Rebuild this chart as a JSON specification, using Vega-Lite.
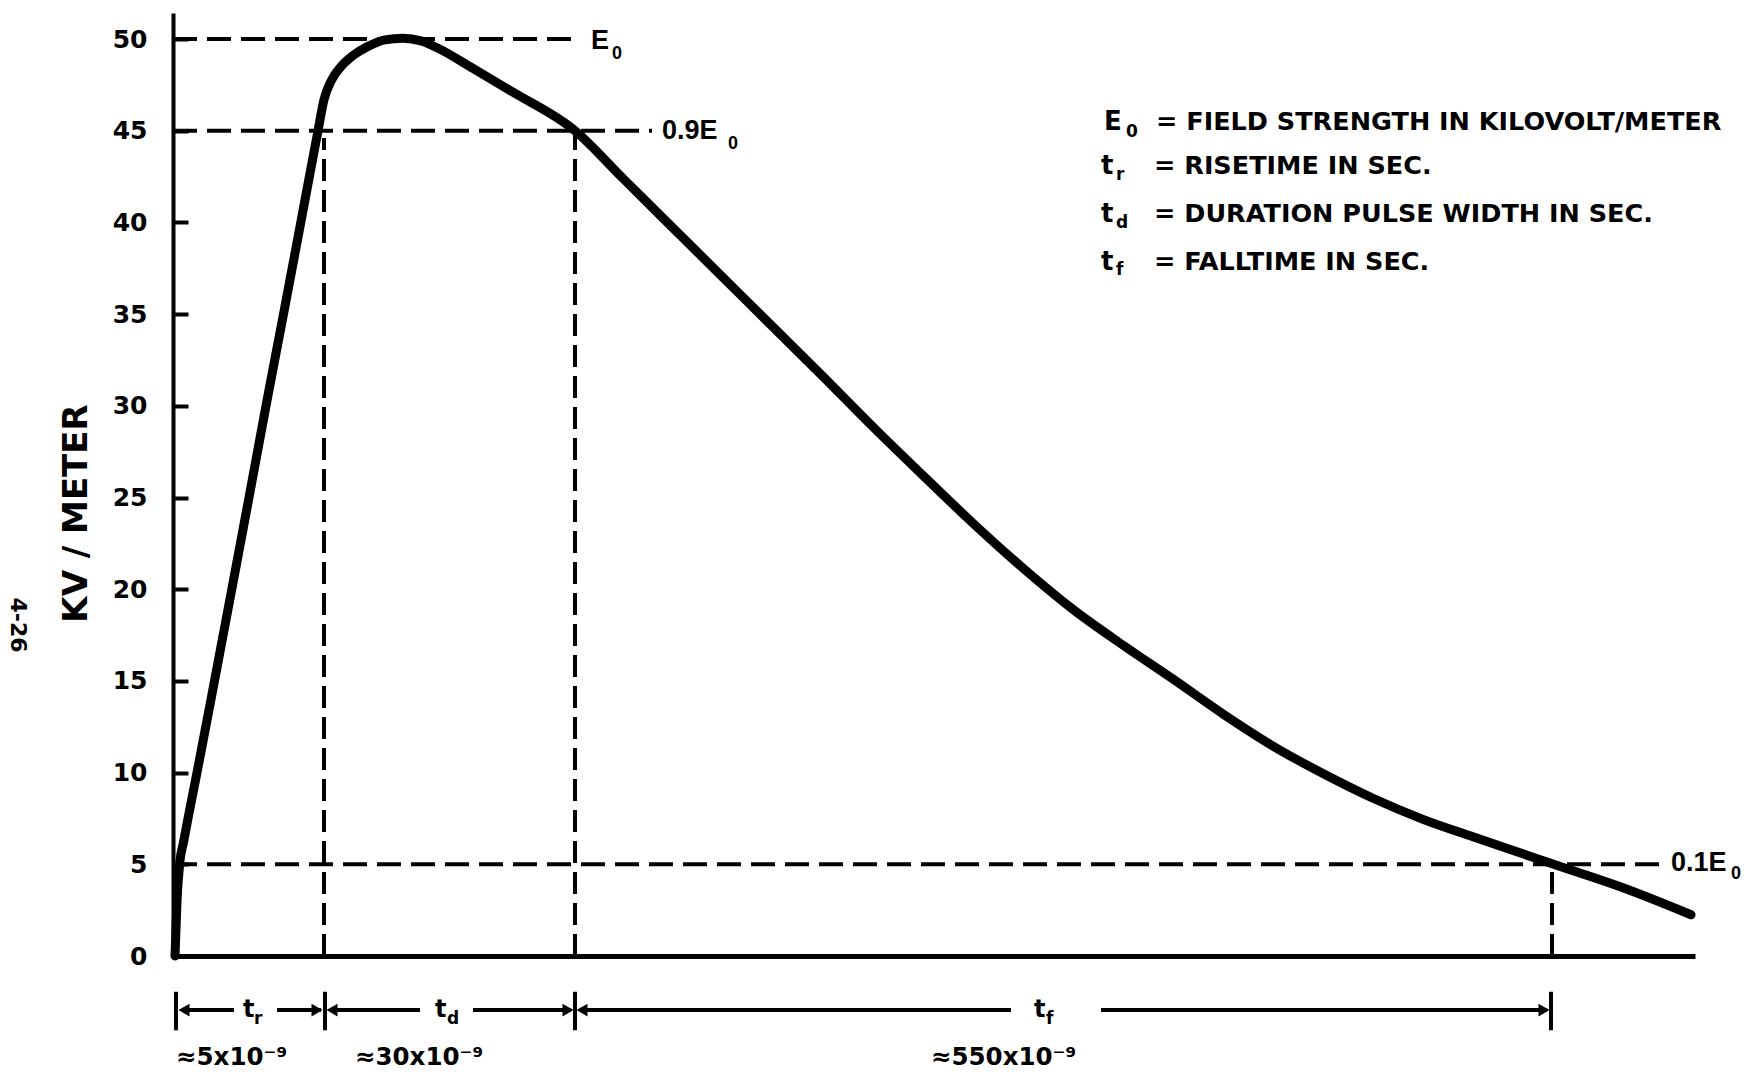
{
  "$schema": "https://vega.github.io/schema/vega-lite/v6.json",
  "width": 1522,
  "height": 943,
  "autosize": {"type": "none"},
  "padding": {"left": 173, "top": 13, "right": 54, "bottom": 120},
  "background": "white",
  "config": {"view": {"stroke": null}, "font": "DejaVu Sans"},
  "datasets": {
    "curve": [
      {"x": 2, "v": 0}, {"x": 4, "v": 3}, {"x": 7, "v": 5.2}, {"x": 10.5, "v": 6.2},
      {"x": 15.7, "v": 7.7}, {"x": 24, "v": 10},
      {"x": 41.5, "v": 15}, {"x": 58.8, "v": 20}, {"x": 76, "v": 25}, {"x": 93, "v": 30},
      {"x": 110.5, "v": 35}, {"x": 127.8, "v": 40}, {"x": 145, "v": 45}, {"x": 151, "v": 46.7},
      {"x": 158, "v": 47.7}, {"x": 168, "v": 48.5}, {"x": 180, "v": 49.1}, {"x": 195, "v": 49.6},
      {"x": 212, "v": 49.95}, {"x": 230, "v": 50.05}, {"x": 248, "v": 49.9}, {"x": 265, "v": 49.5},
      {"x": 300, "v": 48.4}, {"x": 340, "v": 47.1}, {"x": 402, "v": 45},
      {"x": 450, "v": 42.4}, {"x": 500, "v": 39.7}, {"x": 550, "v": 37.0}, {"x": 600, "v": 34.3},
      {"x": 650, "v": 31.6}, {"x": 700, "v": 28.85}, {"x": 750, "v": 26.2}, {"x": 800, "v": 23.6},
      {"x": 850, "v": 21.15}, {"x": 900, "v": 18.9}, {"x": 950, "v": 16.95}, {"x": 1000, "v": 15.1},
      {"x": 1050, "v": 13.2}, {"x": 1100, "v": 11.45}, {"x": 1150, "v": 9.95}, {"x": 1200, "v": 8.6},
      {"x": 1250, "v": 7.45}, {"x": 1300, "v": 6.5}, {"x": 1350, "v": 5.57}, {"x": 1377, "v": 5.07},
      {"x": 1400, "v": 4.65}, {"x": 1450, "v": 3.72}, {"x": 1518, "v": 2.25}
    ],
    "hdash": [
      {"x": 0, "x2": 404, "v": 50},
      {"x": 0, "x2": 479, "v": 45},
      {"x": 0, "x2": 1486, "v": 5}
    ],
    "vdash": [
      {"x": 151, "v": 0, "v2": 44.6},
      {"x": 402, "v": 0, "v2": 44.8},
      {"x": 1379, "v": 0, "v2": 4.8}
    ],
    "shafts": [
      {"x": 10, "x2": 61, "v": -2.95},
      {"x": 104, "x2": 148, "v": -2.95},
      {"x": 158, "x2": 247, "v": -2.95},
      {"x": 300, "x2": 398, "v": -2.95},
      {"x": 408, "x2": 838, "v": -2.95},
      {"x": 928, "x2": 1374, "v": -2.95}
    ],
    "heads": [
      {"x": 11, "v": -2.95, "dir": "left"},
      {"x": 144, "v": -2.95, "dir": "right"},
      {"x": 159, "v": -2.95, "dir": "left"},
      {"x": 395, "v": -2.95, "dir": "right"},
      {"x": 409, "v": -2.95, "dir": "left"},
      {"x": 1371, "v": -2.95, "dir": "right"}
    ],
    "bars": [
      {"x": 3, "v": -1.95, "v2": -4.05},
      {"x": 152, "v": -1.95, "v2": -4.05},
      {"x": 402, "v": -1.95, "v2": -4.05},
      {"x": 1378, "v": -1.95, "v2": -4.05}
    ],
    "lineLabels": [
      {"x": 418, "v": 49.9, "label": "E"},
      {"x": 489, "v": 45.0, "label": "0.9E"},
      {"x": 1498, "v": 5.05, "label": "0.1E"}
    ],
    "lineSubs": [
      {"x": 439, "v": 49.2, "label": "0"},
      {"x": 555, "v": 44.3, "label": "0"},
      {"x": 1558, "v": 4.45, "label": "0"}
    ],
    "legendSym": [
      {"x": 931, "v": 45.47, "label": "E"},
      {"x": 928, "v": 43.08, "label": "t"},
      {"x": 928, "v": 40.44, "label": "t"},
      {"x": 928, "v": 37.86, "label": "t"}
    ],
    "legendSub": [
      {"x": 953, "v": 44.95, "label": "0"},
      {"x": 943, "v": 42.6, "label": "r"},
      {"x": 943, "v": 39.96, "label": "d"},
      {"x": 943, "v": 37.39, "label": "f"}
    ],
    "legendDesc": [
      {"x": 983, "v": 45.47, "label": "= FIELD STRENGTH IN KILOVOLT/METER"},
      {"x": 981, "v": 43.08, "label": "= RISETIME IN SEC."},
      {"x": 981, "v": 40.44, "label": "= DURATION PULSE WIDTH IN SEC."},
      {"x": 981, "v": 37.86, "label": "= FALLTIME IN SEC."}
    ],
    "spanSym": [
      {"x": 70, "v": -2.95, "label": "t"},
      {"x": 262, "v": -2.95, "label": "t"},
      {"x": 861, "v": -2.95, "label": "t"}
    ],
    "spanSub": [
      {"x": 81, "v": -3.45, "label": "r"},
      {"x": 274, "v": -3.45, "label": "d"},
      {"x": 873, "v": -3.45, "label": "f"}
    ],
    "approx": [
      {"x": 3, "v": -5.56, "label": "≈5x10⁻⁹"},
      {"x": 182, "v": -5.56, "label": "≈30x10⁻⁹"},
      {"x": 758, "v": -5.56, "label": "≈550x10⁻⁹"}
    ],
    "page": [
      {"x": -155, "v": 18.05, "label": "4-26"}
    ]
  },
  "encoding": {
    "x": {
      "field": "x", "type": "quantitative",
      "scale": {"domain": [0, 1522], "nice": false, "zero": false},
      "axis": {"domain": true, "domainWidth": 5, "domainColor": "black", "ticks": false, "labels": false, "grid": false, "title": null}
    },
    "y": {
      "field": "v", "type": "quantitative",
      "scale": {"domain": [0, 51.42], "nice": false, "zero": false},
      "axis": {
        "values": [0, 5, 10, 15, 20, 25, 30, 35, 40, 45, 50],
        "grid": false,
        "domainWidth": 4, "domainColor": "black",
        "tickSize": -15, "tickWidth": 4, "tickColor": "black",
        "labelFont": "DejaVu Sans", "labelFontWeight": "bold", "labelFontSize": 25, "labelColor": "black",
        "labelPadding": 41,
        "title": "KV / METER",
        "titleFont": "DejaVu Sans", "titleFontWeight": "bold", "titleFontSize": 34, "titleColor": "black",
        "titlePadding": 19,
        "titleY": 500
      }
    }
  },
  "layer": [
    {
      "data": {"name": "hdash"},
      "mark": {"type": "rule", "color": "black", "strokeWidth": 4, "strokeDash": [24, 10]},
      "encoding": {"x2": {"field": "x2"}}
    },
    {
      "data": {"name": "vdash"},
      "mark": {"type": "rule", "color": "black", "strokeWidth": 4, "strokeDash": [22, 9]},
      "encoding": {"y2": {"field": "v2"}}
    },
    {
      "data": {"name": "curve"},
      "mark": {"type": "line", "color": "black", "strokeWidth": 9, "interpolate": "monotone", "strokeCap": "round", "strokeJoin": "round"},
      "encoding": {}
    },
    {
      "data": {"name": "shafts"},
      "mark": {"type": "rule", "color": "black", "strokeWidth": 4},
      "encoding": {"x2": {"field": "x2"}}
    },
    {
      "data": {"name": "bars"},
      "mark": {"type": "rule", "color": "black", "strokeWidth": 4},
      "encoding": {"y2": {"field": "v2"}}
    },
    {
      "data": {"name": "heads"},
      "mark": {"type": "point", "filled": true, "color": "black", "opacity": 1, "size": 160},
      "encoding": {
        "shape": {"field": "dir", "type": "nominal", "scale": {"domain": ["left", "right"], "range": ["triangle-left", "triangle-right"]}, "legend": null}
      }
    },
    {
      "data": {"name": "lineLabels"},
      "mark": {"type": "text", "font": "Liberation Sans", "fontWeight": "bold", "fontSize": 27, "align": "left", "baseline": "middle", "color": "black"},
      "encoding": {"text": {"field": "label"}}
    },
    {
      "data": {"name": "lineSubs"},
      "mark": {"type": "text", "font": "Liberation Sans", "fontWeight": "bold", "fontSize": 18, "align": "left", "baseline": "middle", "color": "black"},
      "encoding": {"text": {"field": "label"}}
    },
    {
      "data": {"name": "legendSym"},
      "mark": {"type": "text", "font": "DejaVu Sans", "fontWeight": "bold", "fontSize": 26, "align": "left", "baseline": "middle", "color": "black"},
      "encoding": {"text": {"field": "label"}}
    },
    {
      "data": {"name": "legendSub"},
      "mark": {"type": "text", "font": "DejaVu Sans", "fontWeight": "bold", "fontSize": 17, "align": "left", "baseline": "middle", "color": "black"},
      "encoding": {"text": {"field": "label"}}
    },
    {
      "data": {"name": "legendDesc"},
      "mark": {"type": "text", "font": "DejaVu Sans", "fontWeight": "bold", "fontSize": 25.5, "align": "left", "baseline": "middle", "color": "black"},
      "encoding": {"text": {"field": "label"}}
    },
    {
      "data": {"name": "spanSym"},
      "mark": {"type": "text", "font": "DejaVu Sans", "fontWeight": "bold", "fontSize": 24, "align": "left", "baseline": "middle", "color": "black"},
      "encoding": {"text": {"field": "label"}}
    },
    {
      "data": {"name": "spanSub"},
      "mark": {"type": "text", "font": "DejaVu Sans", "fontWeight": "bold", "fontSize": 17, "align": "left", "baseline": "middle", "color": "black"},
      "encoding": {"text": {"field": "label"}}
    },
    {
      "data": {"name": "approx"},
      "mark": {"type": "text", "font": "DejaVu Sans", "fontWeight": "bold", "fontSize": 24.5, "align": "left", "baseline": "middle", "color": "black"},
      "encoding": {"text": {"field": "label"}}
    },
    {
      "data": {"name": "page"},
      "mark": {"type": "text", "font": "DejaVu Sans", "fontWeight": "bold", "fontSize": 22, "align": "center", "baseline": "middle", "angle": 90, "color": "black"},
      "encoding": {"text": {"field": "label"}}
    }
  ]
}
